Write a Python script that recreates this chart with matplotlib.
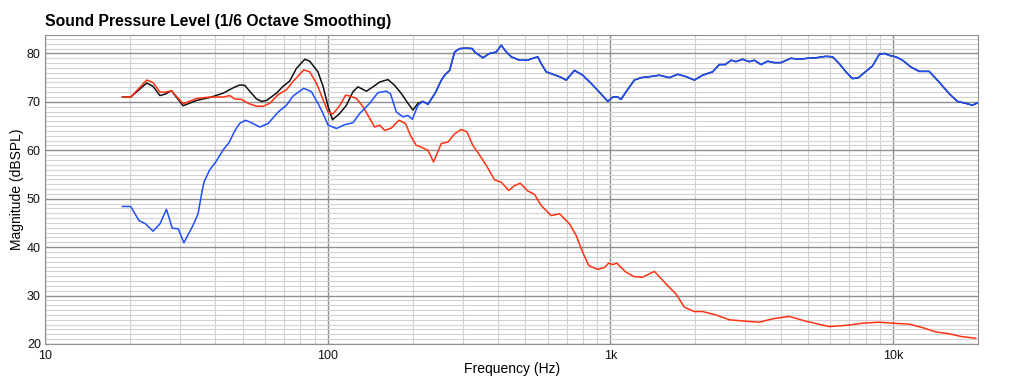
import numpy as np
import matplotlib.pyplot as plt
from matplotlib.ticker import FixedLocator, FixedFormatter, MultipleLocator, NullFormatter

plt.rcParams['font.family'] = ['Liberation Sans', 'DejaVu Sans']

# curva preta (soma) - parte baixa, ate ~220 Hz
black_f = [18.8, 20.1, 22.9, 24.1, 25.5, 26.6, 28.0, 30.8, 34.4, 38.3, 42.7, 46.3, 48.9,
           50.9, 53.0, 56.0, 58.3, 60.8, 65.9, 69.5, 73.4, 77.5, 83.0, 86.4, 92.4, 96.3,
           100.3, 104.0, 110.3, 116.5, 122.9, 128.0, 137.1, 144.6, 152.8, 163.5, 172.6,
           182.3, 192.3, 200.3, 208.6, 217.3]
black_db = [71.0, 71.0, 73.9, 73.2, 71.3, 71.6, 72.3, 69.2, 70.3, 70.9, 71.8, 72.9, 73.5,
            73.4, 72.2, 70.6, 70.1, 70.3, 71.8, 73.2, 74.3, 76.9, 78.8, 78.4, 76.2, 73.2,
            69.1, 66.3, 67.6, 69.3, 72.1, 73.1, 72.2, 73.1, 74.1, 74.6, 73.4,
            71.7, 69.7, 68.3, 69.7, 70.1]

# curva azul - parte baixa
blue_f = [18.8, 20.1, 21.5, 22.7, 24.1, 25.5, 26.9, 28.2, 29.6, 31.0, 33.4, 34.8, 35.8,
          36.5, 38.2, 40.2, 42.7, 44.8, 46.9, 48.9, 51.3, 53.7, 57.5, 61.5, 66.8, 71.5,
          75.4, 82.3, 87.6, 92.4, 96.3, 100.3, 107.4, 114.9, 122.9, 129.8, 140.8, 150.6,
          161.3, 166.7, 175.0, 184.6, 192.3, 199.3, 208.6, 217.3]
blue_db = [48.4, 48.4, 45.5, 44.8, 43.3, 44.8, 47.8, 43.9, 43.8, 40.9, 44.5, 46.9, 51.0,
           53.4, 55.9, 57.6, 60.1, 61.6, 64.0, 65.6, 66.2, 65.7, 64.8, 65.5, 67.9, 69.3,
           71.2, 72.8, 72.1, 69.7, 67.6, 65.2, 64.5, 65.3, 65.7, 67.6, 69.7, 71.9,
           72.2, 71.7, 67.9, 66.9, 67.2, 66.4, 69.3, 70.1]

# parte comum (preta e azul) acima de ~220 Hz
upper_f = [226.3, 240.5, 252.0, 259.2, 270.0, 281.2, 292.9, 309.3, 324.8, 330.9, 354.0,
           373.8, 394.8, 411.2, 425.8, 446.0, 477.2, 510.5, 531.7, 553.7, 569.3, 592.9,
           625.6, 660.7, 697.8, 746.6, 798.7, 855.1, 914.9, 979, 1020, 1062, 1091, 1137,
           1216, 1284, 1375, 1491, 1618, 1730, 1853, 1982, 2120, 2300, 2429, 2551, 2673,
           2782, 2936, 3101, 3229, 3411, 3599, 3801, 4013, 4354, 4658, 4983, 5337, 5788,
           6108, 6449, 6812, 7187, 7548, 8015, 8456, 8931, 9302, 9822, 10230, 10800,
           11560, 12370, 13420, 14550, 15790, 16890, 18090, 19090, 19880]
upper_db = [69.5, 71.9, 74.4, 75.5, 76.5, 80.3, 81.0, 81.1, 81.0, 80.3, 79.1,
            80.0, 80.3, 81.7, 80.5, 79.3, 78.6, 78.6, 79.0, 79.3, 77.9, 76.2,
            75.7, 75.2, 74.5, 76.5, 75.5, 73.8, 72.0, 70.1, 71.0, 71.0, 70.5, 72.1,
            74.5, 75.0, 75.2, 75.5, 75.0, 75.7, 75.2, 74.5, 75.5, 76.2, 77.7, 77.7, 78.6,
            78.3, 78.8, 78.3, 78.6, 77.7, 78.4, 78.1, 78.1, 79.0, 78.8, 79.0, 79.1, 79.4,
            79.3, 77.9, 76.2, 74.8, 75.0, 76.3, 77.4, 79.8, 80.0, 79.5, 79.3, 78.6,
            77.2, 76.3, 76.3, 74.1, 71.7, 70.1, 69.7, 69.3, 69.8]

# curva vermelha
red_f = [18.8, 20.1, 22.9, 24.1, 25.5, 26.6, 28.0, 30.8, 34.4, 38.3, 42.7, 45.1, 46.9,
         49.6, 52.3, 56.0, 59.1, 62.4, 66.8, 71.5, 75.4, 82.3, 86.4, 91.2, 96.3, 100.3,
         104.4, 110.3, 115.8, 119.7, 126.4, 133.3, 140.8, 146.6, 152.8, 159.1, 168.0,
         178.7, 188.7, 196.1, 205.9, 211.5, 226.3, 237.0, 252.3, 266.3, 281.2, 296.9,
         310.8, 326.3, 344.6, 363.9, 389.3, 411.2, 437.3, 458.1, 479.9, 510.5, 539.2,
         569.3, 617.6, 660.7, 716.9, 756.8, 798.7, 838.5, 902.5, 952.8, 987, 1020, 1053,
         1137, 1216, 1301, 1431, 1574, 1708, 1827, 1982, 2120, 2364, 2636, 3018, 3364,
         3749, 4294, 4918, 5945, 6998, 7796, 8931, 9950, 11400, 12700, 14170, 15790,
         17590, 19610]
red_db = [71.0, 71.0, 74.5, 74.0, 72.0, 72.0, 72.3, 69.6, 70.7, 71.0, 71.0, 71.3, 70.6,
          70.5, 69.7, 69.1, 69.1, 69.7, 71.5, 72.5, 74.2, 76.6, 76.2, 73.9, 70.5, 67.9,
          67.5, 69.2, 71.4, 71.2, 70.7, 69.0, 66.6, 64.8, 65.2, 64.1, 64.6,
          66.2, 65.5, 63.1, 61.0, 60.8, 60.0, 57.6, 61.4, 61.7, 63.4, 64.3,
          63.8, 61.0, 59.0, 56.9, 53.9, 53.4, 51.7, 52.7, 53.2, 51.6, 50.9,
          48.6, 46.5, 46.9, 44.8, 42.4, 38.9, 36.2, 35.4, 35.8, 36.7, 36.4, 36.7,
          34.8, 33.9, 33.8, 35.0, 32.4, 30.3, 27.6, 26.7, 26.7, 26.0, 25.0, 24.7, 24.5,
          25.2, 25.7, 24.7, 23.6, 23.9, 24.3, 24.5, 24.3, 24.1, 23.4, 22.5, 22.1,
          21.5, 21.2]

x_ticks = [10, 100, 1000, 10000]
x_labels = ['10', '100', '1k', '10k']
y_ticks = [20, 30, 40, 50, 60, 70, 80]

fig = plt.figure(figsize=(10.11, 3.85), dpi=100)
ax = fig.add_axes([0.0445, 0.1065, 0.923, 0.8025])

ax.semilogx(black_f + upper_f, black_db + upper_db, color='#111111', lw=1.1, zorder=3)
ax.semilogx(red_f, red_db, color='#ff3311', lw=1.1, zorder=4)
ax.semilogx(blue_f + upper_f, blue_db + upper_db, color='#1f4fff', lw=1.1, zorder=5)

ax.set_xlim(10, 20000)
ax.set_ylim(20, 83.8)

ax.xaxis.set_major_locator(FixedLocator(x_ticks))
ax.xaxis.set_major_formatter(FixedFormatter(x_labels))
minor_x = [m * 10 ** d for d in range(1, 5) for m in range(2, 10) if m * 10 ** d < 20000]
ax.xaxis.set_minor_locator(FixedLocator(minor_x))
ax.xaxis.set_minor_formatter(NullFormatter())
ax.yaxis.set_major_locator(FixedLocator(y_ticks))
ax.yaxis.set_minor_locator(MultipleLocator(1))

ax.grid(which='major', color='#8f8f8f', lw=1.0, zorder=1)
ax.grid(which='minor', color='#d2d2d2', lw=0.8, zorder=0)
ax.set_axisbelow(True)
ax.tick_params(which='both', length=0, labelsize=9, colors='#111111')
ax.tick_params(axis='x', pad=4)
ax.tick_params(axis='y', pad=3)
for s in ax.spines.values():
    s.set_color('#8f8f8f')

ax.set_xlabel('Frequency (Hz)', fontsize=10, labelpad=0)
ax.set_ylabel('Magnitude (dBSPL)', fontsize=10, labelpad=2)
fig.text(0.0445, 0.943, 'Sound Pressure Level (1/6 Octave Smoothing)',
         fontsize=11.3, fontweight='bold', va='center', ha='left')

plt.savefig('out.png', dpi=100)
